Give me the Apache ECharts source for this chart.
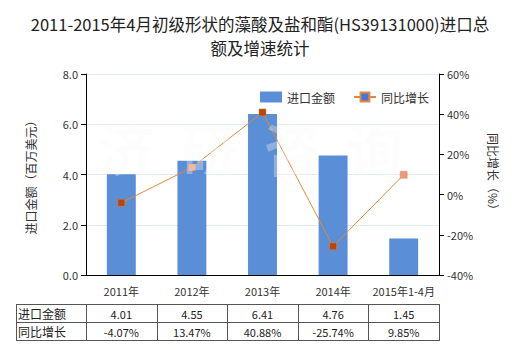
<!DOCTYPE html>
<html><head><meta charset="utf-8">
<script src="https://cdn.jsdelivr.net/npm/echarts@6/dist/echarts.min.js"></script>
<style>html,body{margin:0;padding:0;background:#fff}#c{width:520px;height:350px}</style>
</head><body><div id="c"></div>
<script>
const titleText = '2011-2015年4月初级形状的藻酸及盐和酯(HS39131000)进口总\n额及增速统计';
const categories = ['2011年', '2012年', '2013年', '2014年', '2015年1-4月'];
const importValues = [4.01, 4.55, 6.41, 4.76, 1.45];
const growthValues = [-4.07, 13.47, 40.88, -25.74, 9.85];
const importLabels = ['4.01', '4.55', '6.41', '4.76', '1.45'];
const growthLabels = ['-4.07%', '13.47%', '40.88%', '-25.74%', '9.85%'];
const seriesNames = ['进口金额', '同比增长'];
const leftAxisName = '进口金额（百万美元）';
const rightAxisName = '同比增长（%）';
const watermarkChars = ['济', '研', '咨', '询'];

const FONT = '"Noto Sans CJK SC", "Noto Sans", sans-serif';
const chart = echarts.init(document.getElementById('c'), null, {renderer: 'svg'});
const gL = 86, gR = 439, gT = 74, gB = 275;
const lightIdx = [1, 4];

chart.setOption({
  backgroundColor: '#fff',
  textStyle: {fontFamily: FONT},
  title: {
    text: titleText, left: 'center', top: 7,
    textStyle: {fontSize: 16.5, fontWeight: 'normal', color: '#222', lineHeight: 24, fontFamily: FONT}
  },
  legend: {
    left: 255, top: 86, itemWidth: 22, itemHeight: 11, itemGap: 18,
    textStyle: {fontSize: 12, color: '#333'},
    data: [{name: seriesNames[0], icon: 'rect'}, {name: seriesNames[1]}]
  },
  grid: {left: gL, right: 520 - gR, top: gT, bottom: 350 - gB},
  xAxis: {
    type: 'category', data: categories,
    axisLine: {lineStyle: {color: '#000'}},
    axisTick: {alignWithLabel: true, lineStyle: {color: '#000'}},
    axisLabel: {color: '#333', fontSize: 11, margin: 10, interval: 0}
  },
  yAxis: [{
    type: 'value', min: 0, max: 8, interval: 2,
    name: leftAxisName, nameLocation: 'middle', nameGap: 50,
    nameTextStyle: {fontSize: 12, color: '#333'},
    axisLine: {show: true, lineStyle: {color: '#000'}},
    axisTick: {show: true, lineStyle: {color: '#000'}},
    axisLabel: {color: '#333', fontSize: 11, formatter: v => v.toFixed(1)},
    splitLine: {lineStyle: {color: '#E3EBEB'}}
  }, {
    type: 'value', min: -40, max: 60, interval: 20,
    name: rightAxisName, nameLocation: 'middle', nameGap: 48, nameRotate: -90,
    nameTextStyle: {fontSize: 12, color: '#333'},
    axisLine: {show: true, lineStyle: {color: '#000'}},
    axisTick: {show: true, lineStyle: {color: '#000'}},
    axisLabel: {color: '#333', fontSize: 11, formatter: '{value}%'},
    splitLine: {show: false}
  }],
  series: [{
    name: seriesNames[0], type: 'bar', data: importValues, barWidth: '41%',
    itemStyle: {color: '#5A8ED6'}, z: 1
  }, {
    name: seriesNames[1], type: 'line', yAxisIndex: 1, data: growthValues,
    symbol: 'rect', symbolSize: 7,
    lineStyle: {width: 1, color: '#E0893A'},
    itemStyle: {
      color: p => lightIdx.includes(p.dataIndex) ? '#E89A80' : '#B8450E',
      borderColor: '#E0893A', borderWidth: 0.5
    },
    z: 5
  }]
});

// overlay: watermark and data table
const colX = categories.map(c => chart.convertToPixel({xAxisIndex: 0}, c));
const step = (gR - gL) / categories.length;
const bounds = [16, gL];
for (let i = 0; i < categories.length; i++) bounds.push(Math.round(gL + step * (i + 1)));
const tTop = 304, tMid = 322, tBot = 340;
const g = [];
watermarkChars.forEach((ch, i) => g.push({type: 'text', x: 98 + i * 83, y: 146, z: 10, silent: true,
  style: {text: ch, font: 'bold 56px ' + FONT, lineHeight: 56, fill: 'rgba(250,250,252,0.33)', verticalAlign: 'middle', textVerticalAlign: 'middle'}}));
const lineStyle = {stroke: '#555', lineWidth: 1};
[tTop, tMid, tBot].forEach(y => g.push({type: 'line', shape: {x1: 16, y1: y + 0.5, x2: bounds[bounds.length - 1], y2: y + 0.5}, style: lineStyle}));
bounds.forEach(x => g.push({type: 'line', shape: {x1: x + 0.5, y1: tTop, x2: x + 0.5, y2: tBot + 1}, style: lineStyle}));
const rows = [[seriesNames[0], importLabels], [seriesNames[1], growthLabels]];
rows.forEach((r, ri) => {
  const cy = (ri === 0 ? (tTop + tMid) : (tMid + tBot)) / 2;
  g.push({type: 'text', x: 18, y: cy, style: {text: r[0], font: '12px ' + FONT, fill: '#222', textVerticalAlign: 'middle', verticalAlign: 'middle'}});
  r[1].forEach((t, i) => g.push({type: 'text', x: colX[i], y: cy + 1, style: {text: t, font: '11px ' + FONT, fill: '#222', textAlign: 'center', align: 'center', textVerticalAlign: 'middle', verticalAlign: 'middle'}}));
});
chart.setOption({graphic: g});
</script></body></html>
